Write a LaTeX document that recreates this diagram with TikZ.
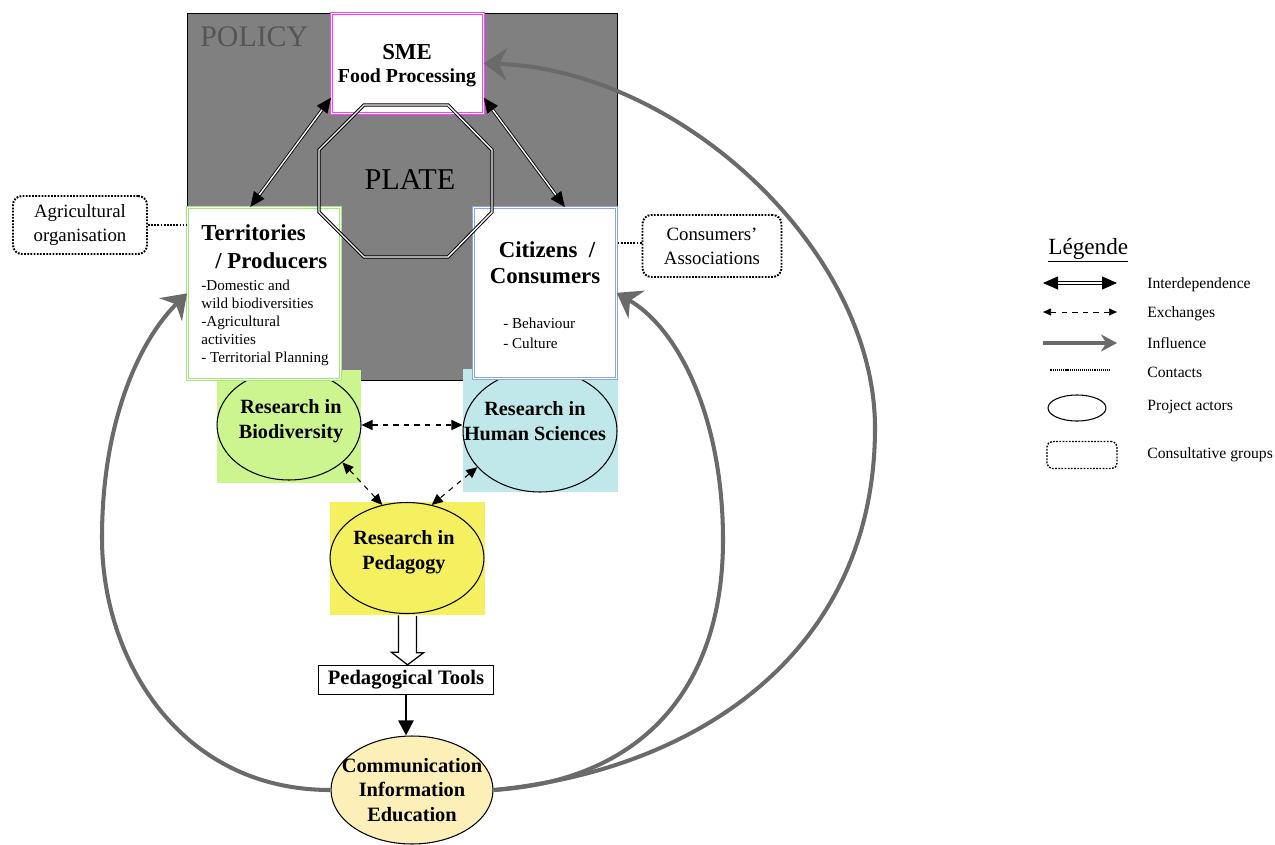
\documentclass[tikz,border=0pt]{standalone}
\usepackage{fontspec}
\setmainfont{Liberation Serif}
\usetikzlibrary{shapes.geometric, arrows.meta, positioning, calc}

\definecolor{policygray}{HTML}{808080}
\definecolor{policytext}{HTML}{555555}
\definecolor{smemag}{HTML}{FF3CFF}
\definecolor{terrgreen}{HTML}{A4E67C}
\definecolor{citzblue}{HTML}{8CA4E6}
\definecolor{biogreen}{HTML}{CCF590}
\definecolor{humcyan}{HTML}{C0E8EA}
\definecolor{pedyellow}{HTML}{F5F060}
\definecolor{commyellow}{HTML}{FDEFB8}
\definecolor{inflgray}{HTML}{6A6A6A}

\begin{document}
\begin{tikzpicture}[x=0.02cm, y=-0.02cm,
        frame/.style={double, double distance=0.9pt, fill=white, anchor=north west, inner sep=0pt},
        panel/.style={inner sep=0pt},
        actor/.style={draw, ellipse, line width=0.6pt, inner sep=0pt},
        actortext/.style={align=center, inner sep=0pt, font=\fontsize{11.5}{14}\selectfont\bfseries},
        title/.style={inner sep=0pt, font=\fontsize{13}{15}\selectfont\bfseries},
        small/.style={anchor=north west, inner sep=0pt, align=left},
        dotline/.style={line width=1.1pt, dash pattern=on 1pt off 0.8pt},
        group/.style={draw, dotline, rounded corners=5pt, align=center, inner sep=0pt, font=\fontsize{10.7}{13.5}\selectfont},
        interdep/.style={double, line width=0.5pt, double distance=0.8pt, {Triangle[length=0.3cm, width=0.26cm]}-{Triangle[length=0.3cm, width=0.26cm]}},
        exchange/.style={dashed, line width=0.6pt, {Triangle[length=0.22cm, width=0.2cm]}-{Triangle[length=0.22cm, width=0.2cm]}},
        influence/.style={draw=inflgray, line width=2.3pt, -{Stealth[length=0.46cm, width=0.64cm]}},
        legtext/.style={anchor=west, inner sep=0pt, font=\fontsize{8.9}{10}\selectfont}
    ]
    \useasboundingbox (0,0) rectangle (1275,845);

    % Policy background
    \node[draw, fill=policygray, anchor=north west, minimum width=8.6cm, minimum height=7.34cm, inner sep=0pt] (policy) at (187,13) {};
    \node[anchor=base west, inner sep=0pt, text=policytext, font=\fontsize{17}{17}\selectfont] (policylbl) at (200,47) {POLICY};

    % Research panels
    \node[panel, fill=biogreen, minimum width=2.88cm, minimum height=2.26cm] (biopanel) at (289,426.5) {};
    \node[panel, fill=humcyan, minimum width=3.1cm, minimum height=2.46cm] (humpanel) at (540.5,430.5) {};
    \node[panel, fill=pedyellow, minimum width=3.1cm, minimum height=2.26cm] (pedpanel) at (407.5,558.5) {};

    \node[actor, minimum width=2.88cm, minimum height=2.2cm] (bio) at (289,425) {};
    \node[actortext] (biotxt) at (291,421) {Research in\\Biodiversity};
    \node[actor, minimum width=3.08cm, minimum height=2.44cm] (hum) at (540,431) {};
    \node[actortext] (humtxt) at (535,421) {Research in\\Human Sciences};
    \node[actor, minimum width=3.08cm, minimum height=2.22cm] (ped) at (407,558) {};
    \node[actortext] (pedtxt) at (404,552) {Research in\\Pedagogy};

    % Actors on the plate
    \node[frame, draw=smemag, minimum width=3.04cm, minimum height=2cm] (sme) at (331,13) {};
    \node[align=center, inner sep=0pt, font=\fontsize{11.3}{13}\selectfont\bfseries] (smetxt) at (407,66) {{\fontsize{13}{13}\selectfont SME}\\Food Processing};
    \node[frame, draw=terrgreen, minimum width=3.06cm, minimum height=3.44cm] (terr) at (187,207) {};
    \node[title, anchor=base west] (terrA) at (201,240) {Territories};
    \node[title, anchor=base west] (terrB) at (215,268) {/ Producers};
    \node[small, font=\fontsize{8.6}{10.2}\selectfont] (terrtxt) at (201,280) {-Domestic and\\wild biodiversities\\-Agricultural\\activities\\- Territorial Planning};
    \node[frame, draw=citzblue, minimum width=2.86cm, minimum height=3.42cm] (citz) at (473,207) {};
    \node[title, anchor=base] (citzA) at (547,257) {Citizens\ \ /};
    \node[title, anchor=base] (citzB) at (545,283) {Consumers};
    \node[small, font=\fontsize{8.6}{11.4}\selectfont] (citztxt) at (503,318) {- Behaviour\\- Culture};

    % Plate
    \draw[double, line width=0.55pt, double distance=0.8pt] (364,105) -- (448,105) -- (492,150) -- (492,212) -- (448,257) -- (364,257) -- (319,212) -- (319,150) -- cycle;
    \node[inner sep=0pt, font=\fontsize{17.2}{17}\selectfont] (plate) at (410,180) {PLATE};

    % Consultative groups
    \node[group, minimum width=2.68cm, minimum height=1.16cm] (agri) at (80,225) {Agricultural\\organisation};
    \node[group, minimum width=2.78cm, minimum height=1.24cm] (assoc) at (712,246) {Consumers’\\Associations};
    \draw[dotline] (agri.east) -- (agri.east -| terr.west);
    \draw[dotline] ([yshift=0.06cm]assoc.west) -- ([yshift=0.06cm]assoc.west -| citz.east);

    % Interdependence
    \draw[interdep] ([yshift=0.32cm]sme.south west) -- ([xshift=-0.27cm]terr.north);
    \draw[interdep] ([yshift=0.32cm]sme.south east) -- ([xshift=0.4cm]citz.north);

    % Exchanges
    \draw[exchange] (bio.east) -- (bio.east -| hum.west);
    \draw[exchange] (bio.-35) -- (ped.115);
    \draw[exchange] (hum.210) -- (ped.65);

    % Pedagogical output
    \node[draw, line width=0.8pt, minimum width=3.5cm, minimum height=0.58cm, inner sep=0pt, font=\fontsize{11.7}{13}\selectfont\bfseries] (tools) at (406,680) {Pedagogical Tools};
    \draw[line width=0.7pt, fill=white] ([xshift=-0.18cm]pedpanel.south) -- ++(0,37) -- ++(-7,0) -- (pedpanel.south |- tools.north) -- ++(16,-12) -- ++(-7,0) -- ++(0,-37);
    \node[actor, fill=commyellow, minimum width=3.24cm, minimum height=2.16cm] (comm) at (412,790) {};
    \node[actortext, font=\fontsize{11.6}{14}\selectfont\bfseries] (commtxt) at (412,790) {Communication\\Information\\Education};
    \draw[line width=1.4pt, -{Triangle[length=0.3cm, width=0.3cm]}] (tools.south) -- (tools.south |- comm.north);

    % Influence
    \draw[influence] (comm.west) .. controls (180,790) and (102,660) .. (102,538) .. controls (102,420) and (140,340) .. (terr.west);
    \draw[influence] (comm.east) .. controls (650,780) and (723,680) .. (723,540) .. controls (723,420) and (680,330) .. (citz.east);
    \draw[influence] (comm.east) .. controls (700,770) and (875,650) .. (875,428) .. controls (875,250) and (680,70) .. (sme.east);

    % Legend
    \node[anchor=base west, inner sep=0pt, font=\fontsize{13.2}{15}\selectfont] (legtitle) at (1048,254) {\underline{Légende}};
    \node[legtext] (legA) at (1147,285) {Interdependence};
    \node[legtext] (legB) at (1147,314) {Exchanges};
    \node[legtext] (legC) at (1147,343) {Influence};
    \node[legtext] (legD) at (1147,372) {Contacts};
    \node[legtext] (legE) at (1147,407) {Project actors};
    \node[legtext] (legF) at (1147,455) {Consultative groups};
    \draw[interdep] ([xshift=-0.6cm,yshift=0.04cm]legA.west) -- ++(-74,0);
    \draw[dashed, line width=0.4pt, {Triangle[length=0.16cm, width=0.14cm]}-{Triangle[length=0.16cm, width=0.14cm]}] ([xshift=-0.6cm,yshift=0.04cm]legB.west) -- ++(-74,0);
    \draw[draw=inflgray, line width=2pt, -{Stealth[length=0.32cm, width=0.34cm]}] ([xshift=-2.08cm]legC.west) -- ++(74,0);
    \draw[line width=0.8pt, dash pattern=on 0.6pt off 0.5pt] ([xshift=-0.74cm,yshift=0.04cm]legD.west) -- ++(-60,0);
    \node[draw, ellipse, line width=0.6pt, minimum width=1.16cm, minimum height=0.52cm, inner sep=0pt] (legell) at (1077,408) {};
    \node[draw, dotline, line width=0.8pt, rounded corners=3pt, minimum width=1.4cm, minimum height=0.54cm, inner sep=0pt] (legbox) at (1082,455) {};
\end{tikzpicture}
\end{document}
